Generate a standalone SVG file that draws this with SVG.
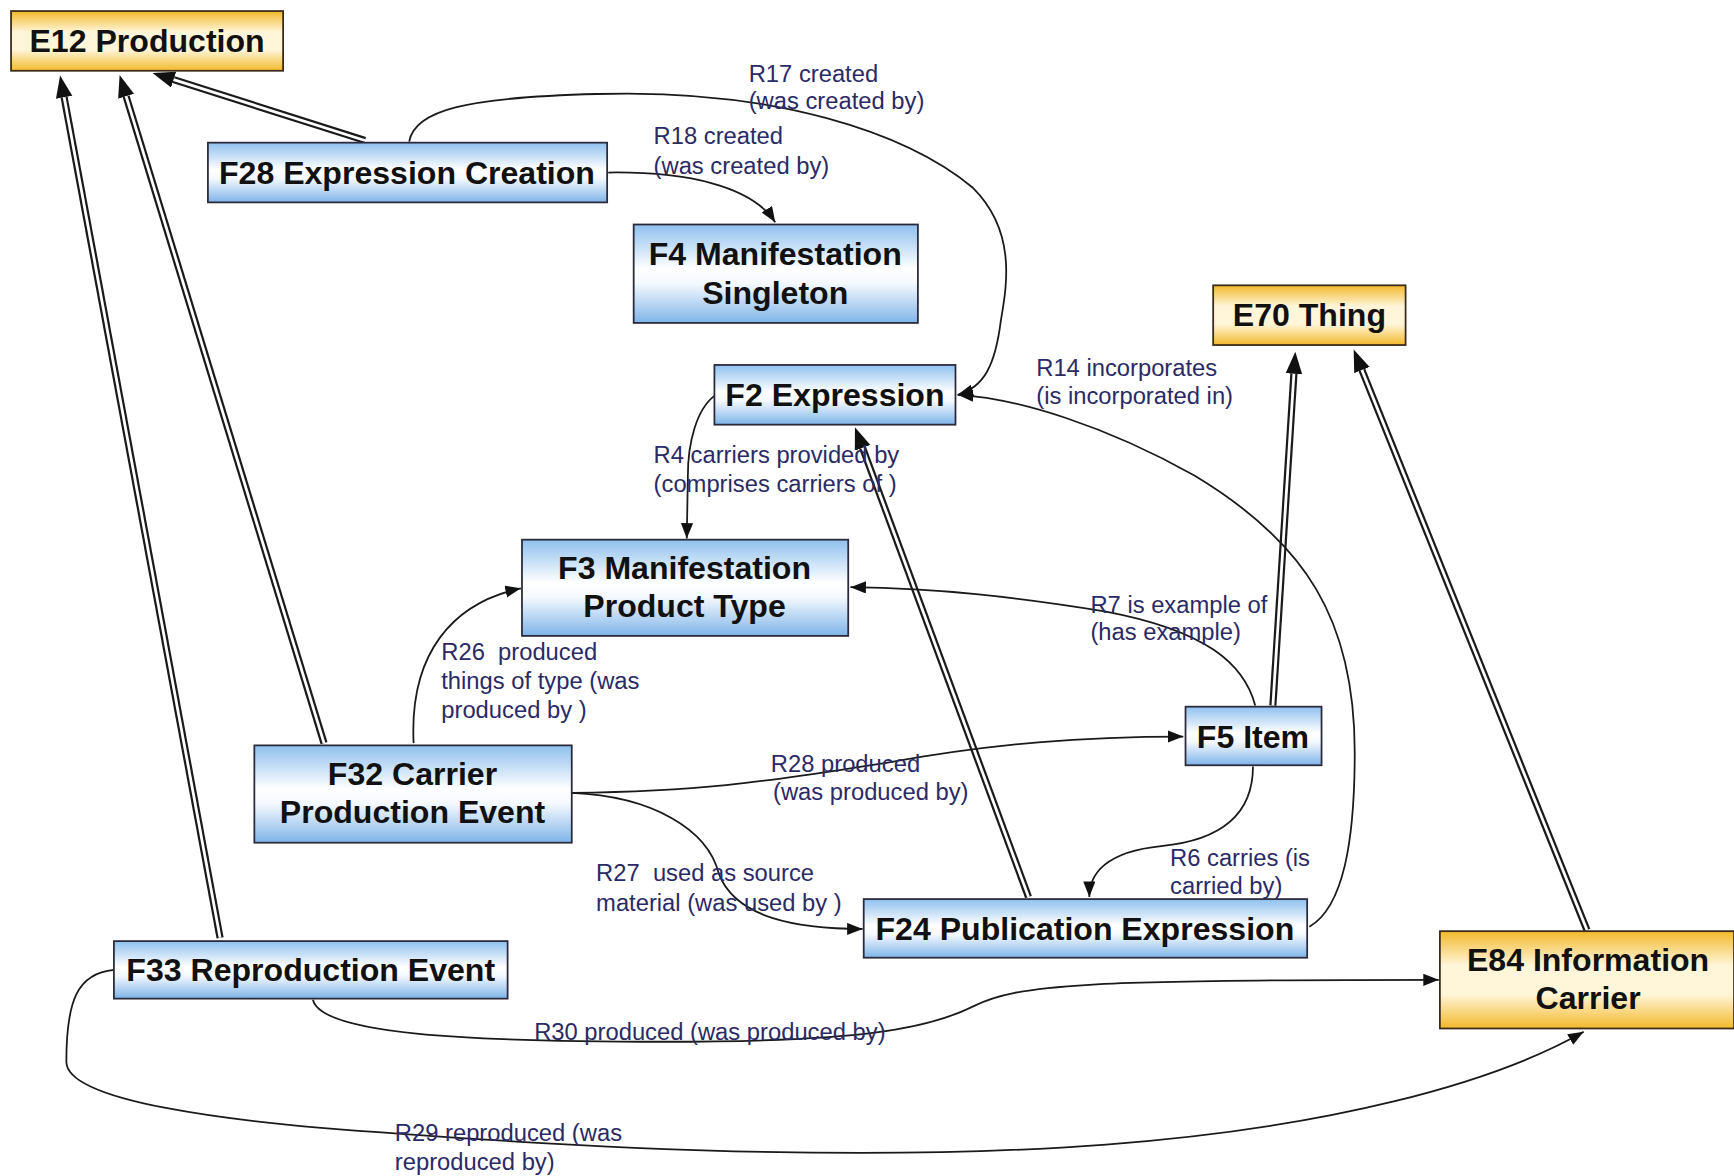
<svg xmlns="http://www.w3.org/2000/svg" width="1734" height="1176" viewBox="0 0 1734 1176">
<defs>
<linearGradient id="gBlue" x1="0" y1="0" x2="0" y2="1">
<stop offset="0" stop-color="#8fc0ee"/>
<stop offset="0.45" stop-color="#ffffff"/>
<stop offset="0.6" stop-color="#f4f9ff"/>
<stop offset="1" stop-color="#7fb4e8"/>
</linearGradient>
<linearGradient id="gGold" x1="0" y1="0" x2="0" y2="1">
<stop offset="0" stop-color="#f2b92a"/>
<stop offset="0.35" stop-color="#fff5d8"/>
<stop offset="0.65" stop-color="#fff5d8"/>
<stop offset="1" stop-color="#f2b92a"/>
</linearGradient>
<marker id="arr" markerUnits="userSpaceOnUse" markerWidth="16" markerHeight="12" refX="14" refY="5.5" orient="auto">
<path d="M0,0 L14,5.5 L0,11 z" fill="#111"/>
</marker>
<marker id="big" markerUnits="userSpaceOnUse" markerWidth="22" markerHeight="16" refX="0" refY="7.5" orient="auto">
<path d="M0,0 L20,7.5 L0,15 z" fill="#111"/>
</marker>
</defs>
<style>
.blue{fill:url(#gBlue);stroke:#2a2a3a;stroke-width:1.6}
.gold{fill:url(#gGold);stroke:#3a2a1a;stroke-width:1.6}
.nt{font-family:"Liberation Sans",Arial,sans-serif;font-weight:bold;font-size:29px;fill:#111;text-anchor:middle}
.lb{font-family:"Liberation Sans",Arial,sans-serif;font-size:21.5px;fill:#2a2a66}
.ln{fill:none;stroke:#1a1a1a;stroke-width:1.6}
.dbo{fill:none;stroke:#1a1a1a;stroke-width:6.5}
.dbi{fill:none;stroke:#ffffff;stroke-width:2.5}
</style>
<rect width="1734" height="1176" fill="#ffffff"/>
<g transform="scale(1.1059)">
<g id="connectors">
<!-- inheritance (double) -->
<path class="dbo" d="M330,127 L157,72" marker-end="url(#big)"/>
<path class="dbi" d="M330,127 L157,72"/>
<path class="dbo" d="M293,672 L114,87" marker-end="url(#big)"/>
<path class="dbi" d="M293,672 L114,87"/>
<path class="dbo" d="M199,848 L58,88" marker-end="url(#big)"/>
<path class="dbi" d="M199,848 L58,88"/>
<path class="dbo" d="M930,811 L780,405" marker-end="url(#big)"/>
<path class="dbi" d="M930,811 L780,405"/>
<path class="dbo" d="M1151,638 L1170,338" marker-end="url(#big)"/>
<path class="dbi" d="M1151,638 L1170,338"/>
<path class="dbo" d="M1435,841 L1231.5,334.6" marker-end="url(#big)"/>
<path class="dbi" d="M1435,841 L1231.5,334.6"/>
<!-- properties -->
<path class="ln" d="M370,128 C375,100 420,88 540,85 C700,80 820,120 880,170 C920,210 910,260 905,290 C900,330 890,350 866,357" marker-end="url(#arr)"/>
<path class="ln" d="M550,156 C620,155 680,168 701,201" marker-end="url(#arr)"/>
<path class="ln" d="M1184,838 C1215,820 1225,760 1225,680 C1225,560 1180,490 1080,430 C1000,385 920,360 866,357" marker-end="url(#arr)"/>
<path class="ln" d="M646,358 C630,370 622,400 622,430 L621,487" marker-end="url(#arr)"/>
<path class="ln" d="M1135,638 C1125,600 1090,570 1000,553 C920,540 850,532 769,531" marker-end="url(#arr)"/>
<path class="ln" d="M374,672 C370,590 410,545 471,532" marker-end="url(#arr)"/>
<path class="ln" d="M517,717 C650,715 700,705 800,690 C900,672 980,666 1070,666" marker-end="url(#arr)"/>
<path class="ln" d="M517,717 C590,720 640,750 650,790 C665,830 720,840 780,840" marker-end="url(#arr)"/>
<path class="ln" d="M1133,693 C1133,740 1100,760 1050,765 C1000,770 985,790 985,811" marker-end="url(#arr)"/>
<path class="ln" d="M283,904 C290,935 420,942 600,942 C780,942 840,930 880,910 C920,890 980,886 1301,886" marker-end="url(#arr)"/>
<path class="ln" d="M103,877 C70,880 60,905 60,960 C60,995 200,1015 360,1025 C560,1040 800,1050 1000,1035 C1200,1020 1350,980 1432,933" marker-end="url(#arr)"/>
</g>
<g id="labels">
<text class="lb" x="677" y="74">R17 created</text>
<text class="lb" x="677" y="99">(was created by)</text>
<text class="lb" x="591" y="130">R18 created</text>
<text class="lb" x="591" y="157">(was created by)</text>
<text class="lb" x="937" y="340">R14 incorporates</text>
<text class="lb" x="937" y="365">(is incorporated in)</text>
<text class="lb" x="591" y="419">R4 carriers provided by</text>
<text class="lb" x="591" y="445">(comprises carriers of )</text>
<text class="lb" x="986" y="554">R7 is example of</text>
<text class="lb" x="986" y="579">(has example)</text>
<text class="lb" x="399" y="597" xml:space="preserve">R26  produced</text>
<text class="lb" x="399" y="623">things of type (was</text>
<text class="lb" x="399" y="649">produced by )</text>
<text class="lb" x="697" y="698">R28 produced</text>
<text class="lb" x="699" y="723">(was produced by)</text>
<text class="lb" x="539" y="797" xml:space="preserve">R27  used as source</text>
<text class="lb" x="539" y="824">material (was used by )</text>
<text class="lb" x="1058" y="783">R6 carries (is</text>
<text class="lb" x="1058" y="808">carried by)</text>
<text class="lb" x="483" y="940">R30 produced (was produced by)</text>
<text class="lb" x="357" y="1032">R29 reproduced (was</text>
<text class="lb" x="357" y="1058">reproduced by)</text>
</g>
<g id="E12"><rect class="gold" x="10" y="10" width="246" height="54"/><text class="nt" x="133" y="47">E12 Production</text></g>
<g id="F28"><rect class="blue" x="188" y="129" width="361" height="54"/><text class="nt" x="368" y="166">F28 Expression Creation</text></g>
<g id="F4"><rect class="blue" x="573" y="203" width="257" height="89"/><text class="nt" x="701" y="240">F4 Manifestation</text><text class="nt" x="701" y="275">Singleton</text></g>
<g id="E70"><rect class="gold" x="1097" y="258" width="174" height="54"/><text class="nt" x="1184" y="295">E70 Thing</text></g>
<g id="F2"><rect class="blue" x="646" y="330" width="218" height="54"/><text class="nt" x="755" y="367">F2 Expression</text></g>
<g id="F3"><rect class="blue" x="472" y="488" width="295" height="87"/><text class="nt" x="619" y="524">F3 Manifestation</text><text class="nt" x="619" y="558">Product Type</text></g>
<g id="F5"><rect class="blue" x="1072" y="639" width="123" height="53"/><text class="nt" x="1133" y="676">F5 Item</text></g>
<g id="F32"><rect class="blue" x="230" y="674" width="287" height="88"/><text class="nt" x="373" y="710">F32 Carrier</text><text class="nt" x="373" y="744">Production Event</text></g>
<g id="F24"><rect class="blue" x="781" y="813" width="401" height="53"/><text class="nt" x="981" y="850">F24 Publication Expression</text></g>
<g id="F33"><rect class="blue" x="103" y="851" width="356" height="52"/><text class="nt" x="281" y="887">F33 Reproduction Event</text></g>
<g id="E84"><rect class="gold" x="1302" y="842" width="266" height="88"/><text class="nt" x="1436" y="878">E84 Information</text><text class="nt" x="1436" y="912">Carrier</text></g>
</g>
</svg>
